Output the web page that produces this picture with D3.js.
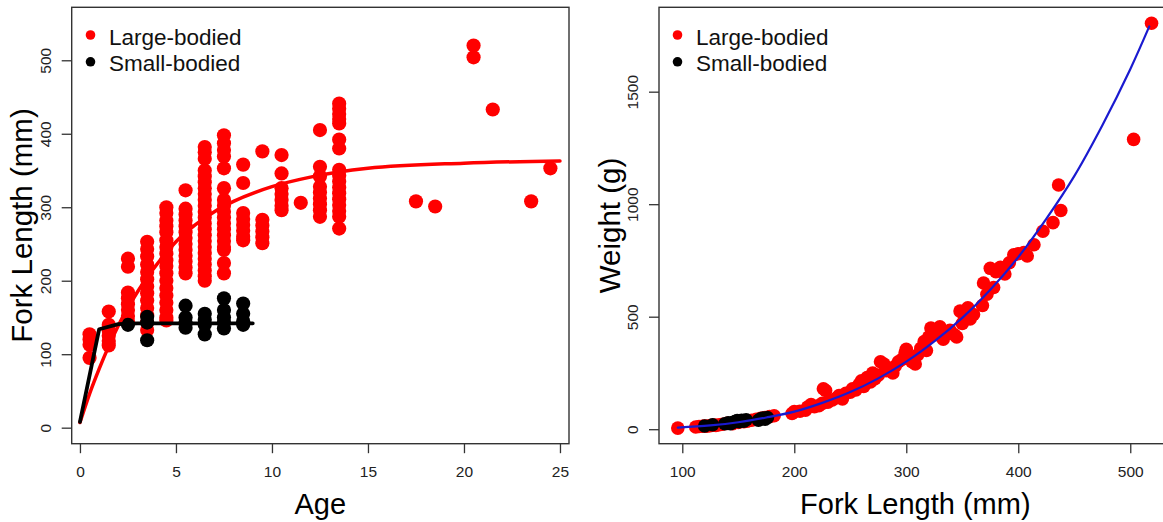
<!DOCTYPE html>
<html>
<head>
<meta charset="utf-8">
<script src="https://cdn.jsdelivr.net/npm/d3@7"></script>
<style>
  html, body { margin: 0; padding: 0; background: #fff; overflow: hidden; }
  svg { display: block; font-family: "Liberation Sans", Arial, sans-serif; }
</style>
</head>
<body>
<svg id="chart" width="1163" height="522"></svg>
<script>
// ---- Age vs fork length ----
const ageTicks = [0, 5, 10, 15, 20, 25];
const lengthTicks = [0, 100, 200, 300, 400, 500];

// large-bodied fish: fork lengths (mm) observed at each age
const largeAges = [0.5, 1.5, 2.5, 3.5, 4.5, 5.5, 6.5, 7.5, 8.5, 9.5, 10.5, 11.5, 12.5, 13.5, 17.5, 18.5, 20.5, 21.5, 23.5, 24.5];
const largeLengths = [
  [127, 120, 113, 95],
  [158, 140, 132, 125, 118, 112],
  [230, 219, 184, 176, 168, 160, 152, 145],
  [253, 243, 233, 222, 212, 202, 192, 183, 173, 163, 153, 143, 133],
  [300, 292, 282, 274, 266, 255, 246, 237, 228, 220, 210, 200, 190, 180, 170, 160, 150, 146],
  [323, 298, 290, 282, 274, 266, 258, 250, 242, 234, 226, 218, 210],
  [382, 375, 366, 350, 342, 334, 326, 318, 310, 302, 294, 286, 278, 270, 262, 254, 246, 238, 230, 222, 214, 206, 200],
  [398, 387, 378, 369, 353, 326, 310, 302, 294, 286, 278, 270, 262, 254, 246, 242, 224, 210],
  [358, 333, 292, 284, 276, 268, 260, 255],
  [376, 283, 275, 267, 259, 251],
  [371, 346, 326, 318, 310, 302, 296],
  [306],
  [405, 355, 342, 328, 320, 312, 304, 296, 287],
  [441, 434, 427, 420, 414, 392, 380, 351, 343, 335, 327, 319, 311, 303, 295, 287, 271],
  [308],
  [301],
  [520, 504],
  [433],
  [308],
  [353]
];

// small-bodied fish
const smallAges = [2.5, 3.5, 5.5, 6.5, 7.5, 8.5];
const smallLengths = [
  [140],
  [151, 143, 119],
  [166, 150, 142, 136],
  [155, 147, 140, 127],
  [176, 160, 150, 143, 135],
  [169, 155, 145, 140]
];

// fitted growth curves
const largeCurveAge = [0, 0.5, 1, 1.5, 2, 3, 4, 5, 6, 7, 8, 10, 12, 15, 20, 25];
const largeCurveLength = [7, 46, 80, 111, 139, 185, 222, 253, 276, 294, 308, 328, 341, 353, 360, 363];
const smallCurveAge = [0, 1, 2, 3, 4, 5, 6, 7, 8, 9];
const smallCurveLength = [8, 134, 141, 142, 142, 142, 142, 142, 142, 142];

// ---- Fork length vs weight ----
const flTicks = [100, 200, 300, 400, 500];
const weightTicks = [0, 500, 1000, 1500];

const largeFL = [96, 112, 115, 118, 120, 122, 125, 128, 130, 133, 136, 140, 145, 150, 155, 158, 162, 166, 170, 174, 178, 182,
  198, 200, 205, 210, 212, 215, 218, 222, 225, 226, 228, 230, 234, 238, 240, 243, 246, 250, 252, 255, 258, 260, 262, 265,
  268, 270, 272, 275, 277, 280, 282, 285, 288, 290, 293, 296, 299, 300, 303, 305, 308, 310, 313, 316, 318, 320, 322, 325,
  328, 330, 333, 336, 339, 343, 345, 348, 350, 352, 355, 357, 360, 368, 369, 372, 375, 378, 380, 384, 388, 392, 396, 400,
  405, 408, 414, 422, 431, 436, 438, 503, 519];
const largeW = [5, 10, 12, 13, 14, 13, 16, 18, 17, 20, 22, 26, 25, 30, 33, 36, 40, 44, 48, 52, 56, 60,
  70, 78, 80, 85, 98, 110, 100, 105, 115, 180, 172, 120, 130, 140, 150, 135, 160, 165, 180, 175, 200, 215, 190, 230,
  210, 250, 225, 240, 300, 290, 260, 270, 250, 280, 300, 310, 340, 355, 320, 300, 290, 330, 360, 390, 350, 410, 450, 440,
  420, 455, 400, 430, 440, 420, 410, 525, 470, 500, 540, 490, 510, 550, 650, 600, 715, 630, 700, 720, 690, 740, 775, 780,
  785, 770, 820, 880, 918, 1085, 972, 1288, 1804];

const smallFL = [120, 127, 138, 141, 143, 145, 147, 149, 151, 153, 155, 157, 168, 170, 172, 174, 176];
const smallW = [14, 20, 24, 28, 25, 30, 34, 38, 33, 40, 36, 42, 40, 46, 50, 44, 52];

// fitted length-weight curve
const fitFL = [96, 125, 150, 175, 200, 225, 250, 275, 300, 325, 350, 375, 400, 425, 450, 475, 500, 517];
const fitW = [7, 17, 31, 52, 78, 117, 165, 226, 300, 390, 495, 620, 765, 935, 1125, 1350, 1600, 1790];

const legendLabels = ["Large-bodied", "Small-bodied"];
const groupColors = ["#ff0000", "#000000"];

// ---- drawing ----
const svg = d3.select("#chart");
const AXIS_COLOR = "#333";
const TICK_TEXT = "#222";

function flatten(ages, lists) {
  const out = [];
  ages.forEach((a, i) => lists[i].forEach(v => out.push([a, v])));
  return out;
}
function zip(xs, ys) { return xs.map((x, i) => [x, ys[i]]); }

function drawPanel(cfg) {
  const g = svg.append("g");
  const x = d3.scaleLinear().domain(cfg.xDomain).range(cfg.xRange);
  const y = d3.scaleLinear().domain(cfg.yDomain).range(cfg.yRange);
  const [x0, x1] = cfg.xRange, [y0, y1] = cfg.yRange;

  // points
  cfg.points.forEach(set => {
    g.append("g").selectAll("circle").data(set.data).join("circle")
      .attr("cx", d => x(d[0])).attr("cy", d => y(d[1]))
      .attr("r", cfg.pointR).attr("fill", set.color);
  });

  // fitted lines
  cfg.lines.forEach(ln => {
    g.append("path").datum(ln.data)
      .attr("fill", "none").attr("stroke", ln.color).attr("stroke-width", ln.width)
      .attr("stroke-linejoin", "round").attr("stroke-linecap", "round")
      .attr("d", d3.line().x(d => x(d[0])).y(d => y(d[1])).curve(ln.curve));
  });

  // box
  g.append("rect").attr("x", x0).attr("y", y1).attr("width", x1 - x0).attr("height", y0 - y1)
    .attr("fill", "none").attr("stroke", AXIS_COLOR).attr("stroke-width", 1.4);

  // x axis
  const xa = g.append("g").attr("transform", `translate(0,${y0})`)
    .call(d3.axisBottom(x).tickValues(cfg.xTicks).tickSize(9.5).tickSizeOuter(0).tickFormat(d3.format("d")));
  xa.select(".domain").remove();
  xa.selectAll(".tick line").attr("stroke", AXIS_COLOR).attr("stroke-width", 1.3);
  xa.selectAll(".tick text").attr("y", 33.6).attr("dy", 0)
    .attr("fill", TICK_TEXT).style("font-size", "15.5px").style("font-family", "Liberation Sans, Arial, sans-serif");

  // y axis (labels parallel to axis)
  const ya = g.append("g").attr("transform", `translate(${x0},0)`)
    .call(d3.axisLeft(y).tickValues(cfg.yTicks).tickSize(10).tickSizeOuter(0).tickFormat(d3.format("d")));
  ya.select(".domain").remove();
  ya.selectAll(".tick line").attr("stroke", AXIS_COLOR).attr("stroke-width", 1.3);
  ya.selectAll(".tick text").attr("x", 0).attr("dy", 0).attr("text-anchor", "middle")
    .attr("transform", "translate(-21,0) rotate(-90)")
    .attr("fill", TICK_TEXT).style("font-size", "15.5px").style("font-family", "Liberation Sans, Arial, sans-serif");

  // axis titles
  g.append("text").attr("x", (x0 + x1) / 2).attr("y", 513.5).attr("text-anchor", "middle")
    .style("font-size", "29px").attr("fill", "#000").text(cfg.xTitle);
  g.append("text").attr("transform", `translate(${cfg.yTitleX},${(y0 + y1) / 2}) rotate(-90)`)
    .attr("text-anchor", "middle").style("font-size", "29.5px").attr("fill", "#000").text(cfg.yTitle);

  // legend
  const lg = g.append("g");
  legendLabels.forEach((lab, i) => {
    lg.append("circle").attr("cx", cfg.legendX).attr("cy", 35 + i * 26.8).attr("r", 4.8).attr("fill", groupColors[i]);
    lg.append("text").attr("x", cfg.legendX + 18.5).attr("y", 45 + i * 26.2)
      .style("font-size", "22.5px").attr("fill", "#111").text(lab);
  });
}

drawPanel({
  xDomain: [-0.43, 25.47], xRange: [71.7, 569],
  yDomain: [-21.8, 572.1], yRange: [443.7, 7.3],
  xTicks: ageTicks, yTicks: lengthTicks,
  pointR: 7.1,
  points: [
    { data: flatten(largeAges, largeLengths), color: groupColors[0] },
    { data: flatten(smallAges, smallLengths), color: groupColors[1] }
  ],
  lines: [
    { data: zip(largeCurveAge, largeCurveLength), color: groupColors[0], width: 3.5, curve: d3.curveMonotoneX },
    { data: zip(smallCurveAge, smallCurveLength), color: groupColors[1], width: 3.8, curve: d3.curveLinear }
  ],
  xTitle: "Age", yTitle: "Fork Length (mm)", yTitleX: 32,
  legendX: 90.5
});

drawPanel({
  xDomain: [79.2, 537], xRange: [659, 1171.7],
  yDomain: [-64.4, 1875], yRange: [443.7, 7.3],
  xTicks: flTicks, yTicks: weightTicks,
  pointR: 6.8,
  points: [
    { data: zip(largeFL, largeW), color: groupColors[0] },
    { data: zip(smallFL, smallW), color: groupColors[1] }
  ],
  lines: [
    { data: zip(fitFL, fitW), color: "#1a1ad0", width: 2.2, curve: d3.curveCatmullRom }
  ],
  xTitle: "Fork Length (mm)", yTitle: "Weight (g)", yTitleX: 619.5,
  legendX: 677.5
});
</script>
</body>
</html>
